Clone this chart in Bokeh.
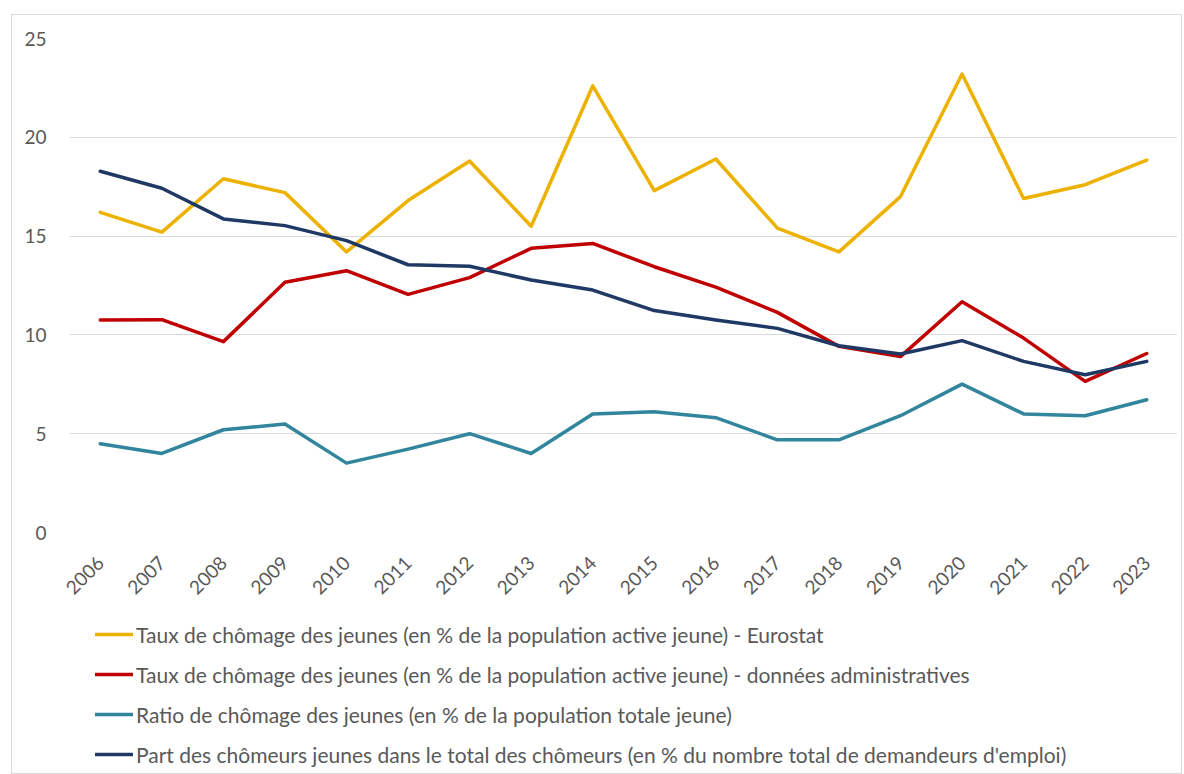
import math
from bokeh.plotting import figure
from bokeh.models import Range1d, FactorRange, Legend, LegendItem, FixedTicker, Spacer
from bokeh.layouts import column, row
from bokeh.embed import file_html
from bokeh.resources import INLINE

years = [str(y) for y in range(2006, 2024)]

eurostat = [16.2, 15.2, 17.9, 17.2, 14.2, 16.8, 18.8, 15.5, 22.6, 17.3, 18.9, 15.4,
            14.2, 17.0, 23.2, 16.9, 17.6, 18.85]
admin = [10.75, 10.77, 9.66, 12.66, 13.25, 12.05, 12.9, 14.38, 14.63, 13.45, 12.42, 11.14,
         9.42, 8.9, 11.68, 9.84, 7.65, 9.06]
ratio = [4.49, 4.0, 5.2, 5.49, 3.51, 4.22, 5.0, 4.0, 6.0, 6.11, 5.81, 4.69,
         4.69, 5.91, 7.51, 6.0, 5.91, 6.72]
part = [18.28, 17.42, 15.87, 15.53, 14.77, 13.55, 13.47, 12.78, 12.27, 11.23, 10.75, 10.33,
        9.45, 9.03, 9.71, 8.66, 7.98, 8.66]

series_labels = [
    "Taux de chômage des jeunes (en % de la population active jeune) - Eurostat",
    "Taux de chômage des jeunes (en % de la population active jeune) - données administratives",
    "Ratio de chômage des jeunes (en % de la population totale jeune)",
    "Part des chômeurs jeunes dans le total des chômeurs (en % du nombre total de demandeurs d'emploi)",
]
series_values = [eurostat, admin, ratio, part]
colors = ["#EDB100", "#C00000", "#31859C", "#1F3864"]
y_ticks = [0, 5, 10, 15, 20, 25]

FONT = "Lato"
TXT = "#595959"
W = 1169
LW = 3.5

p = figure(
    x_range=FactorRange(*years, range_padding=0),
    y_range=Range1d(0, 25),
    width=W, height=592,
    min_border_left=57, min_border_top=23, min_border_right=4, min_border_bottom=75,
    output_backend="svg", toolbar_location=None,
    background_fill_color="white", border_fill_color="white",
)
p.outline_line_color = None

for vals, col in zip(series_values, colors):
    p.line(years, vals, line_color=col, line_width=LW, line_join="round", line_cap="round")

p.xgrid.grid_line_color = None
p.ygrid.grid_line_color = "#D9D9D9"
p.ygrid.grid_line_width = 1.2

p.yaxis.ticker = FixedTicker(ticks=y_ticks)
for ax in (p.xaxis, p.yaxis):
    ax.axis_line_color = None
    ax.major_tick_line_color = None
    ax.minor_tick_line_color = None
    ax.major_tick_out = 0
    ax.major_tick_in = 0
    ax.minor_tick_out = 0
    ax.major_label_text_font = FONT
    ax.major_label_text_color = TXT
    ax.major_label_text_font_size = "19px"
p.yaxis.major_label_standoff = 23
p.xaxis.major_label_orientation = math.pi / 4
p.xaxis.major_label_standoff = 27

# legend panel (separate figure below the chart)
leg = figure(
    width=W, height=166, x_range=Range1d(0, 1), y_range=Range1d(0, 1),
    x_axis_type=None, y_axis_type=None, min_border=0,
    output_backend="svg", toolbar_location=None,
    background_fill_color="white", border_fill_color="white",
)
leg.outline_line_color = None
items = []
for lab, col in zip(series_labels, colors):
    r = leg.line(x=[0, 1], y=[float("nan"), float("nan")], line_color=col,
                 line_width=LW, line_cap="round")
    items.append(LegendItem(label=lab, renderers=[r]))

legend = Legend(
    items=items, orientation="vertical", location=(26, 6),
    border_line_color=None, background_fill_alpha=0,
    label_text_font=FONT, label_text_font_size="21px", label_text_color=TXT,
    glyph_width=38, glyph_height=26, label_height=26, label_standoff=3,
    spacing=14, margin=0, padding=0,
)
leg.add_layout(legend, "center")

inner = column(p, leg, spacing=0)
inner.styles = {"border": "1px solid #D9D9D9"}
layout = column(Spacer(height=14), row(Spacer(width=11), inner, spacing=0), spacing=0)

open("out.html", "w").write(file_html(layout, INLINE))
